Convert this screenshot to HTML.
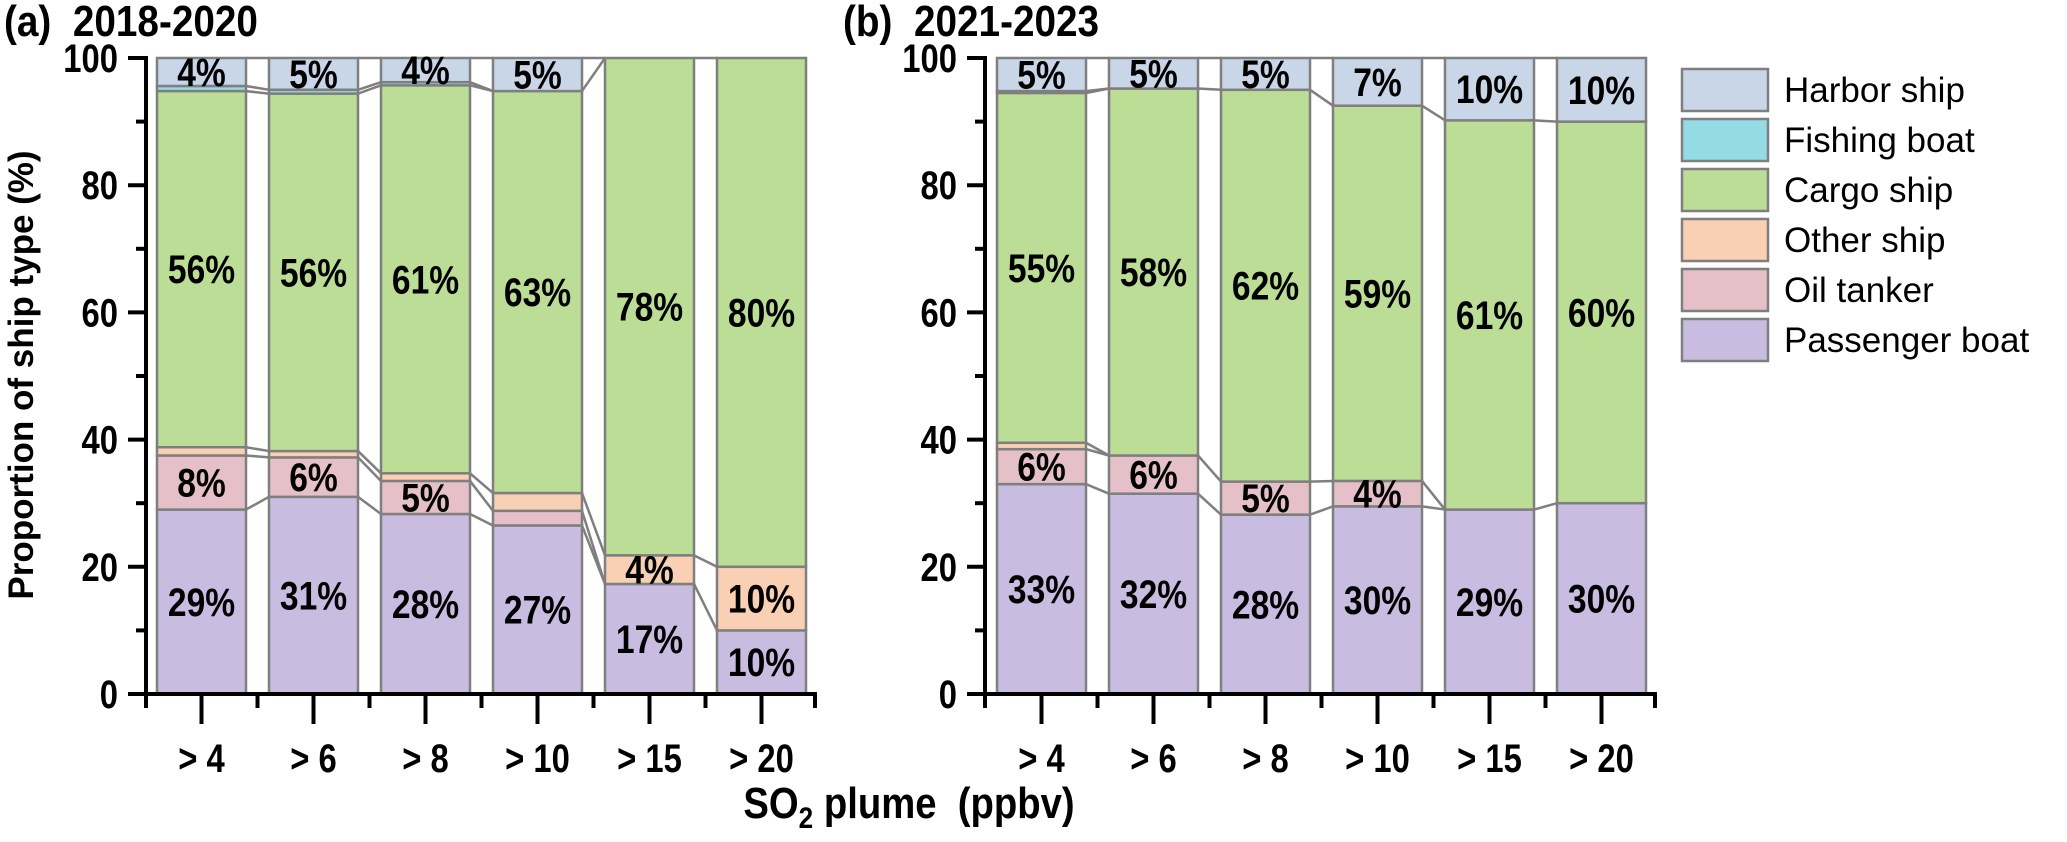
<!DOCTYPE html>
<html><head><meta charset="utf-8"><style>
html,body{margin:0;padding:0;background:#fff}
svg{display:block}
text{font-family:"Liberation Sans",Arial,sans-serif;white-space:pre}
</style></head><body>
<svg id="chart" width="2067" height="842" viewBox="0 0 2067 842" xmlns="http://www.w3.org/2000/svg"></svg>
<script>
const categories = ["> 4","> 6","> 8","> 10","> 15","> 20"];
const seriesNames = ["Passenger boat","Oil tanker","Other ship","Cargo ship","Fishing boat","Harbor ship"];
const seriesColors = ["#c8bde0","#e6c0c8","#f9d0b4","#bcdd96","#94dbe6","#c9d6e8"];
// panel a (2018-2020)
const aPassenger = [29, 31, 28.3, 26.5, 17.3, 10];
const aOil       = [8.5, 6.2, 5.2, 2.3, 0, 0];
const aOther     = [1.3, 1.0, 1.2, 2.8, 4.5, 10];
const aCargo     = [56, 56.2, 61, 63.2, 78.2, 80];
const aFishing   = [0.8, 0.6, 0.5, 0, 0, 0];
const aHarbor    = [4.4, 5, 3.8, 5.2, 0, 0];
const aLabPassenger = ["29%","31%","28%","27%","17%","10%"];
const aLabOil       = ["8%","6%","5%","","",""];
const aLabOther     = ["","","","","4%","10%"];
const aLabCargo     = ["56%","56%","61%","63%","78%","80%"];
const aLabHarbor    = ["4%","5%","4%","5%","",""];
// panel b (2021-2023)
const bPassenger = [33, 31.5, 28.2, 29.5, 29, 30];
const bOil       = [5.5, 6, 5.2, 4, 0, 0];
const bOther     = [1, 0, 0, 0, 0, 0];
const bCargo     = [55, 57.7, 61.6, 59, 61.2, 60];
const bFishing   = [0.3, 0, 0, 0, 0, 0];
const bHarbor    = [5.2, 4.8, 5, 7.5, 9.8, 10];
const bLabPassenger = ["33%","32%","28%","30%","29%","30%"];
const bLabOil       = ["6%","6%","5%","4%","",""];
const bLabOther     = ["","","","","",""];
const bLabCargo     = ["55%","58%","62%","59%","61%","60%"];
const bLabHarbor    = ["5%","5%","5%","7%","10%","10%"];
const yTicks = [0,20,40,60,80,100];

const NS="http://www.w3.org/2000/svg";
const svg=document.getElementById('chart');
function mk(tag,attrs,parent){const e=document.createElementNS(NS,tag);for(const k in attrs)e.setAttribute(k,attrs[k]);(parent||svg).appendChild(e);return e;}
function y(v){return 694-6.36*v;}
const STROKE="#7f7f7f";

function panel(id,axisX,firstBar,series,labels,title,titleX){
  const g=mk('g',{});
  
  
  const pitch=112, bw=89;
  const barX=i=>firstBar+i*pitch;
  const tops=[];
  for(let i=0;i<categories.length;i++){
    let cum=0; const t=[];
    for(let s=0;s<series.length;s++){
      const v=series[s][i];
      const r=mk('rect',{x:barX(i),y:y(cum+v),width:bw,height:6.36*v,fill:seriesColors[s],stroke:STROKE,'stroke-width':2.5},g);
      
      
      if(v<=0) r.setAttribute('stroke-width',0);
      cum+=v; t.push(cum);
    }
    tops.push(t);
  }
  for(let i=0;i<categories.length-1;i++){
    const seen=new Set();
    for(let s=0;s<series.length;s++){
      const a=tops[i][s], b=tops[i+1][s];
      const key=a.toFixed(2)+'_'+b.toFixed(2);
      if(seen.has(key))continue; seen.add(key);
      mk('line',{x1:barX(i)+bw,y1:y(a),x2:barX(i+1),y2:y(b),stroke:STROKE,'stroke-width':2.5},g);
    }
    mk('line',{x1:barX(i)+bw,y1:y(0),x2:barX(i+1),y2:y(0),stroke:STROKE,'stroke-width':2.5},g);
  }
  for(let i=0;i<categories.length;i++){
    let cum=0;
    for(let s=0;s<series.length;s++){
      const v=series[s][i];
      const lab=labels[s]?labels[s][i]:"";
      if(lab){
        const cy=y(cum+v/2);
        const tx=mk('text',{transform:`translate(${barX(i)+bw/2},${cy+14}) scale(0.84,1)`,'text-anchor':'middle','font-size':40,'font-weight':'bold',fill:'#000'},g);
        tx.textContent=lab;
        
        
      }
      cum+=v;
    }
  }
  const endX=firstBar+5*pitch+bw+11;
  mk('line',{x1:axisX,y1:y(100)-2,x2:axisX,y2:y(0)+2,stroke:'#000','stroke-width':4},g);
  for(const t of yTicks){
    mk('line',{x1:axisX-18,y1:y(t),x2:axisX,y2:y(t),stroke:'#000','stroke-width':4},g);
    const tx=mk('text',{transform:`translate(${axisX-28},${y(t)+14}) scale(0.82,1)`,'text-anchor':'end','font-size':40,'font-weight':'bold'},g);
    tx.textContent=t;
    
    
  }
  for(let t=10;t<100;t+=20) mk('line',{x1:axisX-10,y1:y(t),x2:axisX,y2:y(t),stroke:'#000','stroke-width':4},g);
  mk('line',{x1:axisX-2,y1:y(0),x2:endX,y2:y(0),stroke:'#000','stroke-width':4},g);
  for(let i=0;i<categories.length;i++){
    const cx=barX(i)+bw/2;
    mk('line',{x1:cx,y1:y(0),x2:cx,y2:y(0)+30,stroke:'#000','stroke-width':4},g);
    const tx=mk('text',{transform:`translate(${cx},${y(0)+78}) scale(0.82,1)`,'text-anchor':'middle','font-size':40,'font-weight':'bold'},g);
    tx.textContent=categories[i];
    
    
  }
  for(let i=0;i<=categories.length;i++){
    const mx=i===0?axisX:(i===categories.length?endX-2:barX(i)-(pitch-bw)/2);
    mk('line',{x1:mx,y1:y(0),x2:mx,y2:y(0)+14,stroke:'#000','stroke-width':4},g);
  }
  const tt=mk('text',{transform:`translate(${titleX},36) scale(0.88,1)`,'font-size':44,'font-weight':'bold'},g);
  tt.textContent=title;
  
  
}
panel('panel-a',146,157,[aPassenger,aOil,aOther,aCargo,aFishing,aHarbor],
  [aLabPassenger,aLabOil,aLabOther,aLabCargo,null,aLabHarbor],'(a)  2018-2020',4);
panel('panel-b',985,997,[bPassenger,bOil,bOther,bCargo,bFishing,bHarbor],
  [bLabPassenger,bLabOil,bLabOther,bLabCargo,null,bLabHarbor],'(b)  2021-2023',843);

const yt=mk('text',{transform:'translate(33,375) rotate(-90)','text-anchor':'middle','font-size':35,'font-weight':'bold'});
yt.textContent='Proportion of ship type (%)';


const xt=mk('text',{transform:'translate(909,818) scale(0.87,1)','text-anchor':'middle','font-size':44,'font-weight':'bold'});


const t1=mk('tspan',{},xt);t1.textContent='SO';
const t2=mk('tspan',{dy:10,'font-size':30},xt);t2.textContent='2';
const t3=mk('tspan',{dy:-10},xt);t3.textContent=' plume  (ppbv)';

const legendOrder=[5,4,3,2,1,0];
legendOrder.forEach((s,k)=>{
  const cy=90+k*50;
  const r=mk('rect',{x:1682,y:cy-21,width:86,height:42,fill:seriesColors[s],stroke:STROKE,'stroke-width':2.5});
  
  
  const tx=mk('text',{x:1784,y:cy+12,'font-size':35});
  tx.textContent=seriesNames[s];
  
  
});
</script>
</body></html>
